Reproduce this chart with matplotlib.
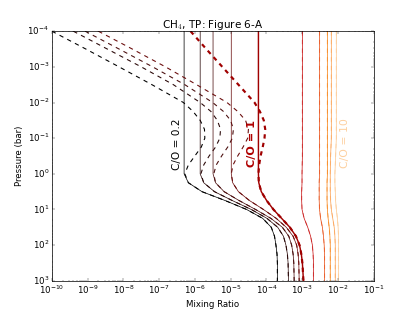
import numpy as np
import matplotlib
matplotlib.use("Agg")
import matplotlib.pyplot as plt

plt.style.use('classic')

# ---------------- data (log10 values) ----------------
co_labels = ["0.2", "1", "10"]

# pressure grid for the solid curves (log10 bar)
logp_solid = [-4, -3, -2, -1, -0.5, 0, 0.25, 0.5, 0.75, 1.0, 1.25, 1.5, 1.75, 2.0, 2.25, 2.5, 3]

solid_0 = [-6.30, -6.30, -6.30, -6.30, -6.30, -6.30, -6.18, -5.80, -5.15, -4.55, -4.10, -3.86, -3.77, -3.73, -3.70, -3.69, -3.69]
solid_1 = [-5.85, -5.85, -5.85, -5.85, -5.85, -5.85, -5.75, -5.45, -4.95, -4.42, -3.98, -3.68, -3.52, -3.45, -3.41, -3.39, -3.38]
solid_2 = [-5.49, -5.49, -5.49, -5.49, -5.49, -5.49, -5.42, -5.18, -4.76, -4.30, -3.87, -3.55, -3.37, -3.29, -3.25, -3.23, -3.22]
solid_3 = [-4.98, -4.98, -4.98, -4.98, -4.98, -4.98, -4.94, -4.78, -4.47, -4.08, -3.72, -3.44, -3.25, -3.15, -3.11, -3.09, -3.08]
solid_4 = [-4.22, -4.22, -4.22, -4.22, -4.22, -4.22, -4.21, -4.14, -3.99, -3.80, -3.57, -3.34, -3.17, -3.07, -3.02, -2.99, -2.96]
solid_5 = [-2.99, -2.99, -2.99, -2.99, -2.99, -3.00, -3.00, -3.01, -3.01, -3.00, -2.94, -2.84, -2.76, -2.71, -2.69, -2.68, -2.68]
solid_6 = [-2.51, -2.51, -2.51, -2.51, -2.51, -2.51, -2.52, -2.52, -2.52, -2.51, -2.48, -2.43, -2.40, -2.38, -2.37, -2.37, -2.37]
solid_7 = [-2.29, -2.29, -2.29, -2.29, -2.29, -2.29, -2.30, -2.30, -2.30, -2.29, -2.27, -2.24, -2.22, -2.21, -2.21, -2.21, -2.21]
solid_8 = [-2.18, -2.18, -2.18, -2.18, -2.20, -2.21, -2.21, -2.21, -2.20, -2.18, -2.14, -2.10, -2.08, -2.07, -2.07, -2.07, -2.07]
solid_9 = [-2.04, -2.04, -2.04, -2.04, -2.06, -2.08, -2.08, -2.07, -2.06, -2.04, -2.01, -1.99, -1.98, -1.98, -1.98, -1.98, -1.98]

# pressure grid for the upper (dashed) parts of the low C/O curves
logp_dash = [-4, -3.5, -3, -2.5, -2, -1.75, -1.5, -1.25, -1, -0.75, -0.5, -0.25, 0]

dash_0 = [-10.0, -9.05, -8.12, -7.20, -6.32, -6.05, -5.85, -5.73, -5.72, -5.82, -6.00, -6.18, -6.28]
dash_1 = [-9.40, -8.45, -7.50, -6.60, -5.85, -5.55, -5.37, -5.28, -5.30, -5.42, -5.60, -5.75, -5.83]
dash_2 = [-9.07, -8.12, -7.18, -6.28, -5.50, -5.20, -5.00, -4.92, -4.95, -5.08, -5.25, -5.40, -5.47]
dash_3 = [-8.70, -7.75, -6.82, -5.95, -5.10, -4.80, -4.58, -4.50, -4.52, -4.65, -4.80, -4.93, -4.98]
dash_4 = [-6.12, -5.68, -5.23, -4.78, -4.33, -4.18, -4.07, -4.03, -4.05, -4.10, -4.16, -4.20, -4.22]

solids = [solid_0, solid_1, solid_2, solid_3, solid_4, solid_5, solid_6, solid_7, solid_8, solid_9]
dashes = [dash_0, dash_1, dash_2, dash_3, dash_4]

# ---------------- styles ----------------
colors = ['#000000', '#2a0808', '#4a0e0e', '#6a0c0c', '#a00000',
          '#c81010', '#e84a10', '#f88010', '#fca050', '#fdc890']

fig = plt.figure(figsize=(415 / 52, 312 / 52), dpi=52, facecolor='white')
ax = fig.add_subplot(111)
ax.set_facecolor('white')

P_s = 10.0 ** np.array(logp_solid)
P_d = 10.0 ** np.array(logp_dash)

for i, vals in enumerate(solids):
    x = 10.0 ** np.array(vals)
    lw = 2.0 if i == 4 else 1.0
    ax.plot(x, P_s, '-', color=colors[i], lw=lw)
    if i < 5:
        xd = np.concatenate([10.0 ** np.array(dashes[i]), x[6:]])
        pd_ = np.concatenate([P_d, P_s[6:]])
        ax.plot(xd, pd_, '--', color=colors[i], lw=3.0 if i == 4 else 1.5)
    else:
        ax.plot(x, P_s, '--', color=colors[i], lw=1.5, alpha=0.5)

ax.set_xscale('log')
ax.set_yscale('log')
ax.set_xlim(1e-10, 1e-1)
ax.set_ylim(1e3, 1e-4)

ax.set_xlabel('Mixing Ratio')
ax.set_ylabel('Pressure (bar)')
ax.set_title('CH$_4$, TP: Figure 6-A')

ax.text(10 ** -6.50, 10 ** -0.82, 'C/O = ' + co_labels[0], rotation=90,
        color=colors[0], ha='center', va='center', fontsize=14.5)
ax.text(10 ** -4.39, 10 ** -0.85, 'C/O = ' + co_labels[1], rotation=90,
        color='#b00000', ha='center', va='center', fontsize=15.5, fontweight='bold')
ax.text(10 ** -1.81, 10 ** -0.85, 'C/O = ' + co_labels[2], rotation=90,
        color='#fdd0a0', ha='center', va='center', fontsize=15)

fig.savefig('out.png', dpi=52, facecolor='white')
